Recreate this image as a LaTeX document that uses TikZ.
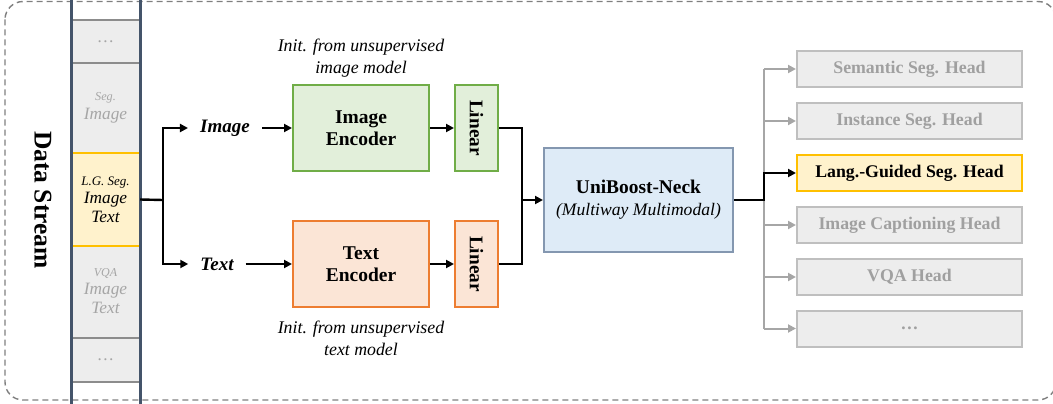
\documentclass[tikz,border=0pt]{standalone}
\usepackage{fontspec}
\setmainfont{Liberation Serif}
\usetikzlibrary{arrows.meta,calc}
\definecolor{colline}{HTML}{44546A}
\definecolor{cellgray}{HTML}{EDEDED}
\definecolor{cellsep}{HTML}{8C8C8C}
\definecolor{txtgray}{HTML}{A6A6A6}
\definecolor{ylwfill}{HTML}{FFF2CC}
\definecolor{ylwdraw}{HTML}{FFC000}
\definecolor{grnfill}{HTML}{E2EFDA}
\definecolor{grndraw}{HTML}{70AD47}
\definecolor{orgfill}{HTML}{FBE5D6}
\definecolor{orgdraw}{HTML}{ED7D31}
\definecolor{neckfill}{HTML}{DEEBF7}
\definecolor{neckdraw}{HTML}{8497B0}
\definecolor{headdraw}{HTML}{BFBFBF}
\definecolor{headtxt}{HTML}{A0A0A0}
\definecolor{treegray}{HTML}{A6A6A6}
\definecolor{dashgray}{HTML}{7F7F7F}
\newcommand{\fsz}[1]{\fontsize{#1}{#1}\selectfont}
\newcommand{\fszb}[2]{\fontsize{#1}{#2}\selectfont}
\tikzset{
  cellbox/.style={rectangle, fill=cellgray, minimum width=69pt, inner sep=0pt, align=center, text=txtgray, font=\itshape\fszb{17.3}{18.5}},
  encbox/.style={rectangle, line width=2pt, minimum width=136pt, minimum height=86pt, align=center, font=\bfseries\fszb{19.5}{22}, inner sep=0pt},
  linbox/.style={rectangle, line width=2pt, minimum width=43pt, minimum height=86pt, inner sep=0pt},
  headbox/.style={rectangle, draw=headdraw, fill=cellgray, line width=2pt, minimum width=225pt, minimum height=36pt, inner sep=0pt, font=\bfseries\fsz{17.8}, text=headtxt},
  lbl/.style={inner ysep=0pt, inner xsep=12pt, font=\bfseries\itshape\fsz{19}},
  note/.style={align=center, font=\itshape\fszb{17.8}{22}, inner sep=0pt},
  arr/.style={line width=2.4pt, -{Triangle[length=8pt,width=8pt]}},
  blk/.style={line width=2.4pt},
  garr/.style={line width=2pt, draw=treegray, -{Triangle[length=8pt,width=8pt]}, treegray},
}
\begin{document}
\begin{tikzpicture}[x=1pt,y=-1pt]
\path[use as bounding box] (0,0) rectangle (1053,404);
\clip (0,0) rectangle (1053,404);
% outer dashed frame
\draw[dashgray, line width=1.4pt, dash pattern=on 6pt off 4pt, rounded corners=18pt] (5,1.5) rectangle (1056,400);

% data stream column cells
\node[cellbox, minimum height=43pt] (c1) at (105.5,41.5) {\textup{\dots}};
\node[cellbox, minimum height=90pt] (c2) at (105.5,108) {{\fontsize{12.2}{12}\selectfont Seg.}\\Image};
\node[cellbox, fill=ylwfill, text=black, minimum height=93pt] (c3) at (105.5,199.5) {{\fontsize{13}{13}\selectfont L.G. Seg.}\\Image\\Text};
\node[cellbox, minimum height=92pt] (c4) at (105.5,291) {{\fontsize{12}{12}\selectfont VQA}\\Image\\Text};
\node[cellbox, minimum height=44pt] (c5) at (105.5,360) {\textup{\dots}};
% cell separators
\draw[cellsep, line width=2.2pt] (c1.north west) -- (c1.north east);
\draw[cellsep, line width=2.2pt] (c1.south west) -- (c1.south east);
\draw[cellsep, line width=2.2pt] (c5.north west) -- (c5.north east);
\draw[cellsep, line width=2.2pt] (c5.south west) -- (c5.south east);
\draw[ylwdraw, line width=2.4pt] (c3.north west) -- (c3.north east);
\draw[ylwdraw, line width=2.4pt] (c3.south west) -- (c3.south east);
% column rails
\draw[colline, line width=3pt] (71,0) -- (71,404);
\draw[colline, line width=3pt] (140,0) -- (140,404);

\node[rotate=-90, font=\bfseries\fsz{25.5}] (ds) at (43,200) {Data Stream};

% inputs
\node[lbl] (imglbl) at (225,128) {Image};
\node[lbl] (txtlbl) at (217,264) {Text};
\coordinate (j1) at (163,200);
\draw[blk] (c3.east) -- (j1);
\draw[arr] (j1) |- (imglbl.west);
\draw[arr] (j1) |- (txtlbl.west);

% encoders
\node[encbox, draw=grndraw, fill=grnfill] (ienc) at (361,128) {Image\\Encoder};
\node[encbox, draw=orgdraw, fill=orgfill] (tenc) at (361,264) {Text\\Encoder};
\node[linbox, draw=grndraw, fill=grnfill] (ilin) at (476.5,128) {};
\node[linbox, draw=orgdraw, fill=orgfill] (tlin) at (476.5,264) {};
\node[rotate=-90, font=\bfseries\fsz{19.3}, inner sep=0pt] (ilint) at (ilin.center) {Linear};
\node[rotate=-90, font=\bfseries\fsz{19.3}, inner sep=0pt] (tlint) at (tlin.center) {Linear};
\draw[arr] (imglbl.east) -- (ienc.west);
\draw[arr] (txtlbl.east) -- (tenc.west);
\draw[arr] (ienc.east) -- (ilin.west);
\draw[arr] (tenc.east) -- (tlin.west);

\node[note] (inote) at (361,58) {Init. from unsupervised\\image model};
\node[note] (tnote) at (361,338) {Init. from unsupervised\\text model};

% neck
\node[rectangle, draw=neckdraw, fill=neckfill, line width=2pt, minimum width=189pt, minimum height=104pt, align=center, inner sep=0pt, font=\fszb{17.6}{22}] (neck) at (638.5,200) {{\bfseries\fontsize{19.4}{22}\selectfont UniBoost-Neck}\\{\itshape (Multiway Multimodal)}};
\coordinate (j2) at (522,200);
\draw[blk] (ilin.east) -| (j2);
\draw[blk] (tlin.east) -| (j2);
\draw[arr] (j2) -- (neck.west);

% heads
\node[headbox] (h1) at (909.5,69) {Semantic Seg. Head};
\node[headbox] (h2) at (909.5,121) {Instance Seg. Head};
\node[headbox, draw=ylwdraw, fill=ylwfill, text=black] (h3) at (909.5,173) {Lang.-Guided Seg. Head};
\node[headbox] (h4) at (909.5,225) {Image Captioning Head};
\node[headbox] (h5) at (909.5,277) {VQA Head};
\node[headbox] (h6) at (909.5,328.5) {\dots};

\coordinate (j3) at (764,200);
\coordinate (ttop) at (764,69);
\coordinate (tbot) at (764,328.5);
\draw[treegray, line width=2pt] (ttop) -- (tbot);
\draw[garr] (ttop) -- (h1.west);
\draw[garr] (ttop |- h2.west) -- (h2.west);
\draw[garr] (ttop |- h4.west) -- (h4.west);
\draw[garr] (ttop |- h5.west) -- (h5.west);
\draw[garr] (tbot) -- (h6.west);
\draw[arr] (neck.east) -- (j3) |- (h3.west);
\end{tikzpicture}
\end{document}
